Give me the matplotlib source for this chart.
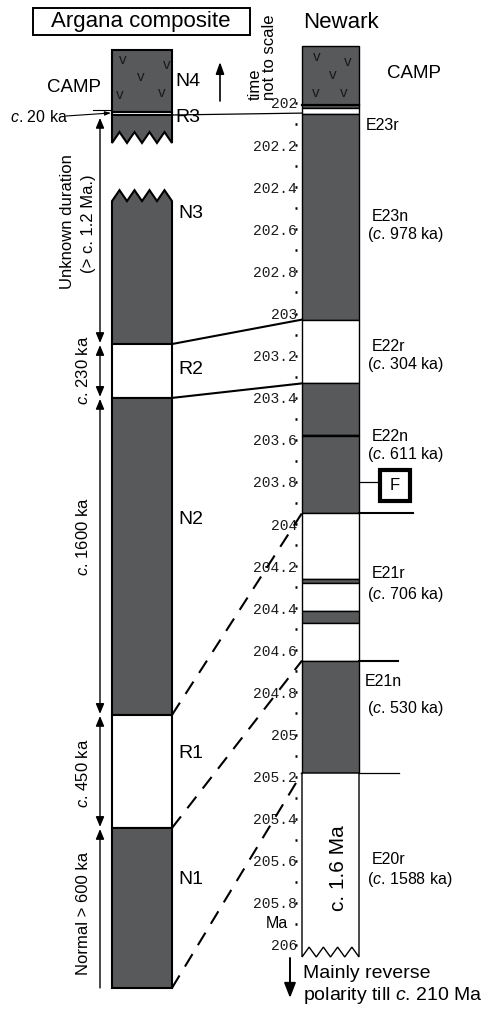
import numpy as np
import matplotlib.pyplot as plt
from matplotlib.patches import Rectangle, Polygon
from matplotlib.ticker import FuncFormatter

plt.rcParams['font.family'] = ['Liberation Sans', 'DejaVu Sans']
plt.rcParams['mathtext.fontset'] = 'custom'
plt.rcParams['mathtext.rm'] = 'Liberation Sans'
plt.rcParams['mathtext.it'] = 'Liberation Sans:italic'

#--------------------
# data (vertical values in Ma on the Newark time scale)

# Newark polarity column: zone boundaries top -> bottom, 1 = normal, 0 = reverse
newark_bounds = [201.729, 202.024, 202.052, 203.029, 203.332, 203.575, 203.582,
                 203.948, 204.261, 204.282, 204.412, 204.469, 204.649, 205.183, 206.057]
newark_polarity = [1, 0, 1, 0, 1, 0, 1, 0, 1, 0, 1, 0, 1, 0]
newark_camp_base = 202.010

newark_names = ['CAMP', 'E23r', 'E23n', 'E22r', 'E22n', 'E21r', 'E21n', 'E20r']
newark_durations = ['', '', '978', '304', '611', '706', '530', '1588']

# Argana composite (schematic), upper part and lower part split by a gap
argana_upper_bounds = [201.748, 202.043, 202.057, 202.190]
argana_upper_polarity = [1, 0, 1]
argana_lower_bounds = [202.466, 203.145, 203.401, 204.907, 205.444, 206.204]
argana_lower_polarity = [1, 0, 1, 0, 1]
argana_names = ['N4', 'R3', 'N3', 'R2', 'N2', 'R1', 'N1']

# correlation lines Argana -> Newark
tie_argana = [202.057, 203.145, 203.401, 204.907, 205.444, 206.204]
tie_newark = [202.048, 203.029, 203.332, 203.948, 204.649, 205.183]
tie_style = ['thin', 'solid', 'solid', 'dashed', 'dashed', 'dashed']

# duration brackets left of the Argana column
dur_top = [202.071, 203.150, 203.406, 204.912, 205.449]
dur_bottom = [203.140, 203.396, 204.902, 205.439, 206.204]
dur_labels = ['', r'$\it{c}$. 230 ka', r'$\it{c}$. 1600 ka', r'$\it{c}$. 450 ka', 'Normal > 600 ka']

# Newark time axis ticks
major_ticks = np.round(np.arange(2020, 2061, 2) / 10, 1)
minor_ticks = np.round(np.arange(2020, 2061, 1) / 10, 1)

#--------------------
# layout helpers

dark = '#58595b'


def yp(row):
    # pixel row of the 496x1009 canvas -> Ma position
    return 202 + (row - 103) / 210.5


def zigzag(x0, x1, level, amp):
    xs = np.linspace(x0, x1, 9)
    ys = level - amp * (np.arange(9) % 2)
    return list(zip(xs, ys))


def draw_column(ax, x0, x1, bounds, polarity, lw, zig_top=False, zig_bottom=False, amp=0.052):
    n = len(polarity)
    for i in range(n):
        top = bounds[i]
        bot = bounds[i + 1]
        fc = dark if polarity[i] else 'white'
        if i == 0 and zig_top:
            pts = zigzag(x0, x1, top, amp) + [(x1, bot), (x0, bot)]
            ax.add_patch(Polygon(pts, closed=True, fc=fc, ec='k', lw=lw))
        elif i == n - 1 and zig_bottom:
            pts = [(x0, top), (x1, top)] + zigzag(x0, x1, bot, amp)[::-1]
            ax.add_patch(Polygon(pts, closed=True, fc=fc, ec='k', lw=lw))
        else:
            ax.add_patch(Rectangle((x0, top), x1 - x0, bot - top, fc=fc, ec='k', lw=lw))


def draw_graph():

    fig = plt.figure(figsize=(4.96, 10.09), dpi=100, facecolor='w')
    ax = fig.add_axes([0, 0, 1, 1])
    ax.set_xlim(0, 496)
    ax.set_ylim(yp(1009), yp(0))
    for s in ['top', 'right', 'bottom', 'left']:
        ax.spines[s].set_visible(False)
    ax.xaxis.set_visible(False)

    # Newark time scale as the y axis, placed left of the Newark column
    ax.spines['left'].set_position(('data', 296))
    ax.set_yticks(major_ticks)
    ax.set_yticks(minor_ticks, minor=True)
    ax.yaxis.set_major_formatter(FuncFormatter(lambda v, p: f'{v:.1f}'.rstrip('0').rstrip('.')))
    ax.tick_params(axis='y', which='both', direction='inout', length=1.8, width=1.8,
                   pad=-1.5, labelsize=10.5)
    for lab in ax.get_yticklabels():
        lab.set_family('Liberation Mono')
        lab.set_color('#1a1a1a')
    ax.text(288, 205.9, 'Ma', ha='right', va='center', fontsize=11.5)

    # columns
    ax_x0, ax_x1 = 112, 172
    nw_x0, nw_x1 = 302, 359
    draw_column(ax, ax_x0, ax_x1, argana_upper_bounds, argana_upper_polarity, 1.5, zig_bottom=True)
    draw_column(ax, ax_x0, ax_x1, argana_lower_bounds, argana_lower_polarity, 1.5, zig_top=True)
    draw_column(ax, nw_x0, nw_x1, newark_bounds, newark_polarity, 1.0, zig_bottom=True, amp=0.047)
    ax.plot([nw_x0, nw_x1], [newark_camp_base, newark_camp_base], color='k', lw=1.6)

    # volcanic (CAMP) symbols
    for x, y in [(123, 60), (167, 65), (141, 77), (120, 95), (162, 93),
                 (317, 57), (348, 62), (333, 75), (316, 93), (344, 93)]:
        ax.text(x, yp(y), 'v', ha='center', va='center', fontsize=11, color='#1a1a1a')

    # correlation lines
    for a, n, st in zip(tie_argana, tie_newark, tie_style):
        if st == 'thin':
            ax.plot([ax_x1, nw_x0], [a, n], color='k', lw=0.9)
        elif st == 'solid':
            ax.plot([ax_x1, nw_x0], [a, n], color='k', lw=1.5)
        else:
            ax.plot([ax_x1, nw_x0], [a, n], color='k', lw=1.5, dashes=(7, 5))

    # short lines right of Newark
    ax.plot([nw_x1, 413], [newark_bounds[7], newark_bounds[7]], color='k', lw=1.5)
    ax.plot([nw_x1, 398], [newark_bounds[12], newark_bounds[12]], color='k', lw=1.5)
    ax.plot([nw_x1, 399], [newark_bounds[13], newark_bounds[13]], color='k', lw=0.9)

    # F box
    ax.plot([nw_x1, 379], [yp(482), yp(482)], color='k', lw=0.9)
    ax.add_patch(Rectangle((380, yp(470)), 30, yp(501) - yp(470), fc='w', ec='k', lw=3))
    ax.text(395, yp(486), 'F', ha='center', va='center', fontsize=12)

    # duration brackets
    for i in range(len(dur_top)):
        style = '<|-|>,head_length=0.6,head_width=0.25'
        if i == len(dur_top) - 1:
            style = '-|>,head_length=0.6,head_width=0.25'
        ax.annotate('', xy=(100, dur_top[i]), xytext=(100, dur_bottom[i]),
                    arrowprops=dict(arrowstyle=style, color='k', lw=1, shrinkA=0, shrinkB=0))
    ax.text(67, yp(222), 'Unknown duration', rotation=90, ha='center', va='center', fontsize=12)
    ax.text(89, yp(224), '(> c. 1.2 Ma.)', rotation=90, ha='center', va='center', fontsize=12)
    for lab, row in zip(dur_labels[1:], [370, 537, 773, 913]):
        ax.text(83, yp(row), lab, rotation=90, ha='center', va='center', fontsize=12)

    # Argana labels
    ax.add_patch(Rectangle((33, yp(8)), 217, yp(35) - yp(8), fc='w', ec='k', lw=1.4))
    ax.text(141, yp(22), 'Argana composite', ha='center', va='center', fontsize=16)
    ax.text(47, yp(88), 'CAMP', ha='left', va='center', fontsize=13.5)
    for lab, row in zip(argana_names, [82, 118, 213, 370, 520, 753, 880]):
        ax.text(175 if lab in ('N4', 'R3') else 178, yp(row), lab,
                ha='left', va='center', fontsize=14)
    ax.annotate('', xy=(220, yp(62)), xytext=(220, yp(101)),
                arrowprops=dict(arrowstyle='-|>,head_length=0.7,head_width=0.25',
                                color='k', lw=1.2, shrinkA=0, shrinkB=0))
    ax.text(10, yp(117), r'$\it{c}$. 20 ka', ha='left', va='center', fontsize=11.5)
    ax.annotate('', xy=(111, yp(113)), xytext=(66, yp(116)),
                arrowprops=dict(arrowstyle='-|>,head_length=0.35,head_width=0.12',
                                color='k', lw=0.8, shrinkA=0, shrinkB=0))
    ax.plot([93, ax_x0], [yp(110), yp(110)], color='k', lw=0.8)

    # Newark labels
    ax.text(341, yp(22), 'Newark', ha='center', va='center', fontsize=16)
    ax.text(255, yp(100), 'time', rotation=90, ha='center', va='bottom', fontsize=12)
    ax.text(269, yp(100), 'not to scale', rotation=90, ha='center', va='bottom', fontsize=12)
    ax.text(387, yp(74), newark_names[0], ha='left', va='center', fontsize=13.5)
    ax.text(366, yp(126), newark_names[1], ha='left', va='center', fontsize=11.5)
    name_rows = [217, 347, 437, 573, 681, 860]
    dur_rows = [235, 365, 455, 594, 708, 880]
    for i in range(2, len(newark_names)):
        ax.text(372 if newark_names[i] != 'E21n' else 365, yp(name_rows[i - 2]),
                newark_names[i], ha='left', va='center', fontsize=11.5)
        ax.text(367, yp(dur_rows[i - 2]), r'($\it{c}$. ' + newark_durations[i] + ' ka)',
                ha='left', va='center', fontsize=11.5)

    ax.text(338, yp(868), 'c. 1.6 Ma', rotation=90, ha='center', va='center', fontsize=15)

    # bottom note
    ax.annotate('', xy=(290, yp(998)), xytext=(290, yp(958)),
                arrowprops=dict(arrowstyle='-|>,head_length=0.9,head_width=0.35',
                                color='k', lw=1.4, shrinkA=0, shrinkB=0))
    ax.text(303, yp(973), 'Mainly reverse', ha='left', va='center', fontsize=14)
    ax.text(303, yp(996), r'polarity till $\it{c}$. 210 Ma', ha='left', va='center', fontsize=14)

    plt.savefig('out.png', dpi=100)


def main():
    draw_graph()


if __name__ == "__main__":
    main()
